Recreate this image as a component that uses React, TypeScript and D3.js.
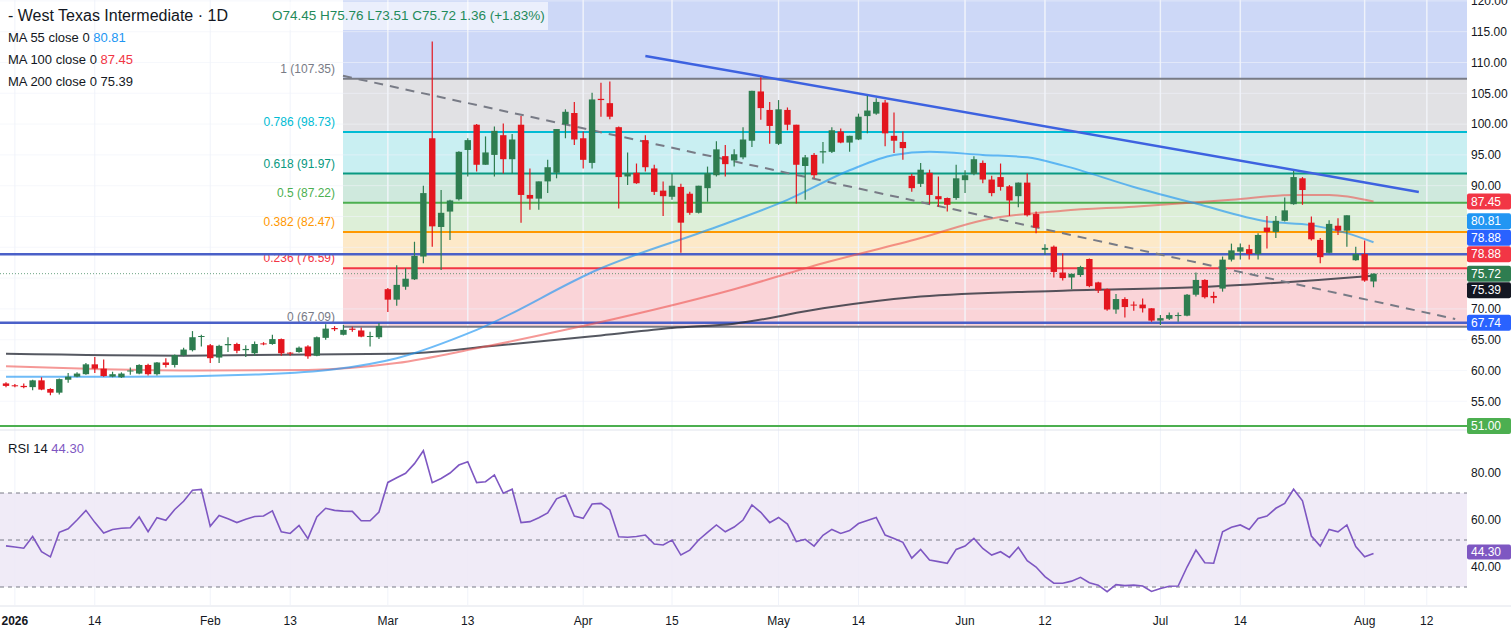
import React from 'react';
import * as d3 from 'd3';

// daily bars Dec 31 2025 -> Aug 4 2026, [open, high, low, close]
const ohlc: [number, number, number, number][] = [
  [57.9, 58.1, 57.3, 57.5], [57.6, 57.8, 57.3, 57.5], [57.5, 57.9, 57.1, 57.3], [57.3, 58.5, 56.8, 58.4],
  [58.4, 58.9, 56.8, 56.9], [57.0, 57.1, 56.0, 56.4], [56.4, 58.7, 56.1, 58.6], [58.5, 59.6, 58.0, 59.0],
  [59.0, 59.7, 58.9, 59.5], [59.4, 61.2, 59.3, 61.0], [61.0, 62.2, 59.6, 60.3], [60.3, 61.8, 59.0, 59.1],
  [59.0, 59.8, 58.9, 59.4], [58.9, 59.7, 58.8, 59.5], [59.9, 60.5, 59.3, 60.0], [59.5, 61.0, 59.4, 60.9],
  [60.9, 61.1, 59.2, 59.4], [59.4, 61.4, 59.2, 61.3], [61.3, 62.0, 60.5, 60.9], [60.9, 62.6, 60.5, 62.5],
  [62.5, 63.7, 62.3, 63.4], [63.3, 66.4, 63.1, 65.4], [65.5, 65.8, 63.9, 65.6], [64.1, 64.3, 61.2, 62.0],
  [62.1, 64.2, 61.2, 64.0], [64.1, 65.4, 63.0, 64.3], [64.3, 64.5, 62.8, 63.2], [63.3, 64.1, 62.2, 63.5],
  [62.8, 64.7, 62.4, 64.3], [64.4, 64.6, 64.1, 64.3], [64.3, 65.8, 64.2, 65.1], [65.1, 65.2, 62.4, 62.8],
  [62.9, 63.0, 62.4, 62.8], [63.0, 63.9, 62.9, 63.7], [63.9, 64.1, 61.9, 62.3], [62.4, 65.5, 62.3, 65.4],
  [65.3, 67.5, 65.0, 66.8], [66.9, 67.2, 66.4, 66.7], [65.8, 67.4, 65.7, 66.6], [66.8, 67.1, 66.3, 66.6],
  [66.5, 67.0, 65.4, 65.5], [65.5, 66.3, 63.9, 65.6], [65.4, 67.7, 65.1, 67.2], [73.2, 73.4, 69.5, 71.5],
  [71.5, 77.1, 70.5, 73.9], [73.6, 76.6, 73.1, 74.9], [74.8, 80.9, 74.7, 78.6], [78.5, 90.0, 77.4, 88.8],
  [97.7, 113.4, 80.1, 83.4], [83.3, 89.3, 76.3, 85.6], [85.8, 87.7, 81.2, 87.6], [87.8, 95.6, 87.6, 95.5],
  [95.8, 97.7, 91.5, 97.4], [99.9, 100.0, 92.3, 93.4], [93.4, 98.0, 93.4, 95.4], [95.0, 99.6, 91.5, 98.9],
  [98.2, 100.1, 92.0, 94.3], [94.3, 98.4, 92.0, 97.5], [99.9, 101.3, 84.0, 88.5], [88.5, 92.8, 86.1, 87.9],
  [87.9, 90.7, 86.1, 90.7], [90.7, 94.2, 88.8, 93.0], [92.1, 99.2, 91.2, 99.2], [100.0, 102.4, 97.7, 102.0],
  [101.8, 103.6, 96.6, 97.5], [97.7, 98.8, 92.8, 94.2], [93.7, 105.1, 92.8, 104.0], [104.1, 106.7, 101.2, 103.9],
  [103.4, 106.9, 100.8, 101.2], [99.5, 99.6, 86.3, 91.4], [91.5, 95.4, 90.1, 92.0], [92.1, 93.6, 90.3, 90.4],
  [97.4, 98.2, 92.3, 93.0], [92.8, 93.4, 88.5, 89.0], [89.2, 90.7, 85.1, 88.3], [88.2, 91.9, 87.7, 90.0],
  [89.8, 90.3, 79.1, 84.0], [88.7, 89.0, 85.3, 85.6], [85.6, 90.0, 85.5, 90.0], [89.6, 93.1, 87.4, 92.0],
  [91.7, 97.2, 91.5, 95.9], [94.8, 96.6, 91.5, 93.5], [94.1, 95.9, 93.1, 95.1], [94.6, 99.5, 94.3, 97.5],
  [97.3, 105.4, 96.3, 105.4], [105.3, 107.6, 100.7, 102.6], [102.3, 103.6, 96.8, 99.7], [96.8, 103.9, 96.6, 102.4],
  [102.3, 102.7, 99.0, 99.9], [99.9, 99.9, 87.1, 93.4], [93.2, 95.0, 87.7, 94.6], [95.0, 95.3, 91.2, 91.7],
  [95.4, 97.1, 93.6, 95.6], [95.5, 99.5, 95.3, 99.0], [98.8, 99.3, 96.9, 97.0], [97.0, 98.1, 95.5, 98.1],
  [97.5, 101.7, 97.4, 101.2], [101.3, 104.6, 98.5, 102.2], [101.7, 104.2, 101.5, 103.6], [103.5, 103.9, 96.4, 98.5],
  [98.1, 101.9, 95.3, 97.3], [97.1, 98.8, 94.2, 96.1], [91.6, 91.9, 89.0, 89.6], [90.3, 93.7, 89.8, 92.6],
  [92.1, 92.6, 87.0, 88.5], [88.3, 91.5, 86.6, 87.8], [88.0, 88.1, 85.8, 86.9], [88.0, 93.4, 87.7, 91.2],
  [90.9, 92.5, 88.8, 91.7], [91.9, 94.8, 91.7, 94.3], [93.7, 94.1, 90.4, 91.0], [91.0, 91.6, 88.3, 88.8],
  [91.4, 93.6, 89.2, 89.8], [89.9, 90.1, 85.1, 87.6], [88.3, 90.5, 86.5, 90.5], [90.5, 92.0, 85.0, 85.2],
  [85.4, 85.8, 82.3, 83.2], [79.6, 80.5, 78.8, 79.9], [80.1, 80.3, 75.1, 76.0], [75.9, 79.0, 74.6, 75.0],
  [75.1, 75.7, 73.2, 75.7], [75.5, 77.0, 75.2, 76.8], [78.1, 78.2, 73.5, 73.7], [74.3, 74.4, 72.6, 73.0],
  [73.2, 73.3, 69.7, 69.9], [69.9, 72.4, 69.2, 71.6], [71.6, 71.9, 68.6, 70.3], [70.7, 71.2, 69.7, 70.6],
  [70.7, 71.7, 69.4, 70.1], [70.1, 70.1, 67.9, 68.1], [68.1, 69.0, 67.4, 68.5], [68.4, 69.4, 68.2, 69.0],
  [68.9, 69.4, 67.9, 69.0], [68.9, 72.4, 68.8, 72.3], [72.3, 75.9, 72.0, 74.7], [74.7, 74.8, 71.7, 71.9],
  [72.1, 72.8, 70.9, 71.8], [73.3, 78.5, 72.8, 78.0], [78.0, 80.6, 77.7, 79.5], [79.3, 80.6, 78.0, 80.0],
  [79.7, 80.4, 78.0, 78.9], [78.9, 82.3, 78.0, 82.0], [83.2, 85.1, 79.8, 82.5], [82.5, 85.1, 81.5, 84.3],
  [84.3, 88.1, 84.2, 86.0], [87.0, 92.4, 86.9, 91.4], [91.2, 91.4, 86.9, 89.3], [84.0, 85.0, 81.1, 81.3],
  [81.2, 81.5, 77.4, 78.4], [79.1, 84.4, 79.0, 83.8], [83.5, 84.7, 82.0, 82.7], [82.7, 85.2, 80.1, 85.2],
  [77.9, 80.1, 77.8, 78.9], [78.9, 81.1, 74.4, 74.6], [74.45, 75.76, 73.51, 75.72],
];

// moving averages, [bar index, value]
const ma55: [number, number][] = [
  [0, 59.0], [14, 59.0], [29, 59.4], [37, 60.2], [44, 62.0], [53, 66.6], [67, 76.6], [80, 83.3],
  [88, 87.7], [95, 92.5], [100, 95.0], [104, 95.5], [110, 95.0], [115, 94.6], [119, 93.3], [127, 89.8],
  [134, 87.1], [142, 84.2], [147, 83.6], [151, 82.3], [154, 80.81],
];
const ma100: [number, number][] = [
  [0, 60.7], [11, 60.2], [22, 60.0], [34, 60.1], [44, 61.2], [53, 63.6], [63, 66.6], [82, 73.2],
  [92, 77.4], [103, 81.5], [110, 84.4], [119, 85.95], [127, 86.6], [138, 87.7], [145, 88.5], [149, 88.5],
  [154, 87.45],
];
const ma200: [number, number][] = [
  [0, 62.7], [20, 62.4], [44, 62.7], [55, 64.0], [67, 65.7], [75, 66.9], [82, 67.6], [92, 70.1],
  [103, 72.0], [119, 72.96], [134, 73.5], [154, 75.39],
];

// RSI 14 per bar
const rsi14: number[] = [
  47.5, 47.0, 46.5, 51.5, 45.0, 42.8, 53.3, 54.8, 58.5, 62.6, 57.5, 53.0, 54.5, 55.0, 55.2, 59.8,
  53.5, 59.5, 58.4, 63.0, 66.5, 71.2, 71.5, 55.8, 60.4, 59.0, 57.4, 58.8, 60.0, 60.2, 62.4, 53.5,
  52.8, 56.2, 50.6, 59.8, 63.5, 62.6, 62.3, 62.2, 58.2, 58.2, 61.9, 74.5, 76.5, 78.4, 82.5, 88.0,
  74.4, 76.2, 78.5, 81.9, 83.3, 74.4, 74.8, 77.7, 69.9, 71.6, 57.4, 57.8, 59.5, 61.5, 67.5, 69.1,
  60.2, 59.2, 65.3, 65.6, 62.8, 51.4, 51.2, 51.5, 52.1, 48.3, 47.9, 50.0, 43.6, 45.7, 50.0, 53.2,
  56.4, 53.5, 55.5, 58.5, 64.9, 61.8, 57.4, 59.6, 56.8, 49.3, 50.3, 47.4, 52.0, 54.5, 52.8, 54.0,
  57.0, 58.3, 59.6, 52.1, 50.6, 49.0, 42.3, 46.0, 41.5, 40.8, 40.1, 46.0, 47.4, 50.7, 46.4, 43.6,
  45.0, 42.6, 46.9, 41.2, 38.5, 34.4, 31.6, 31.6, 32.5, 34.1, 31.8, 30.8, 28.0, 31.0, 30.6, 30.8,
  30.4, 28.1, 29.4, 30.3, 30.4, 38.5, 45.7, 40.3, 40.1, 53.5, 55.4, 56.4, 54.5, 59.2, 60.2, 63.5,
  65.6, 71.6, 66.7, 51.7, 47.4, 54.5, 53.5, 56.4, 47.2, 42.9, 44.3,
];

const fibRatios = ['0', '0.236', '0.382', '0.5', '0.618', '0.786', '1'];
const fibValues = [67.09, 76.59, 82.47, 87.22, 91.97, 98.73, 107.35];
const fibStart = 37.95; // bar index where the retracement begins

const blueTrend: [number, number][] = [[72, 111.06], [159.1, 88.98]];
const grayTrend: [number, number][] = [[37.95, 107.84], [163.2, 68.36]];

const tickIdx = [1, 10, 23, 32, 43, 52, 65, 75, 87, 96, 108, 117, 130, 139, 153, 160];
const tickText = ['2026', '14', 'Feb', '13', 'Mar', '13', 'Apr', '15', 'May', '14', 'Jun', '12', 'Jul', '14', 'Aug', '12'];

const priceTicks = [55, 60, 65, 70, 75, 80, 85, 90, 95, 100, 105, 110, 115, 120];
const rsiTicks = [40, 60, 80];

const tagValues = [87.45, 80.81, 78.88, 78.88, 75.72, 75.39, 67.74, 51.0];
const tagKinds = ['ma100', 'ma55', 'hline', 'alert', 'last', 'ma200', 'hline', 'hgreen'];

const font = '"Liberation Sans", Arial, sans-serif';
const UP = '#2e7d50';
const DOWN = '#e3161f';

const fibLine = ['#787b86', '#f23645', '#ff9800', '#4caf50', '#089981', '#00bcd4', '#787b86'];
const fibFill = ['#fad4d8', '#fde9c8', '#ddefd8', '#cfe9dd', '#c9eff2', '#e1e1e4', '#cdd8f7'];
const tagColor: Record<string, string> = {
  ma100: '#f23645', ma55: '#2196f3', hline: '#2962ff', alert: '#f23645',
  last: '#2e7d50', ma200: '#131722', hgreen: '#4caf50',
};

export default function App() {
  const W = 1511, H = 634, plotR = 1467;
  const x = d3.scaleLinear().domain([0, 154]).range([6, 6 + 154 * 8.88]);
  const y = d3.scaleLinear().domain([55, 115]).range([401.3, 31.7]);
  const yr = d3.scaleLinear().domain([30, 70]).range([587, 493]);
  const topPrice = y.invert(0);
  const fx = x(fibStart);

  const maLine = d3.line<[number, number]>().x(d => x(d[0])).y(d => y(d[1])).curve(d3.curveMonotoneX);
  const rsiLine = d3.line<number>().x((_, i) => x(i)).y(d => yr(d));

  // price tags on the axis: last price stays put, the others are pushed away from it
  const gapMin = 16.5;
  const tags = tagValues.map((v, i) => ({ v, kind: tagKinds[i], pos: y(v) }));
  const li = tags.findIndex(t => t.kind === 'last');
  for (let i = li - 1; i >= 0; i--) {
    tags[i].pos = Math.min(tags[i].pos, tags[i + 1].pos - gapMin);
  }
  for (let i = li + 1; i < tags.length; i++) {
    tags[i].pos = Math.max(tags[i].pos, tags[i - 1].pos + gapMin);
  }
  const shownTicks = priceTicks.filter(p => tags.every(t => Math.abs(t.pos - y(p)) > 11));

  const bands = fibValues.map((v, i) => ({
    lo: v, hi: i < fibValues.length - 1 ? fibValues[i + 1] : topPrice, fill: fibFill[i],
  }));

  return (
    <svg width={W} height={H} style={{ position: 'absolute', left: 0, top: 0, background: '#fff', fontFamily: font }}>
      {/* fib zones */}
      {bands.map((b, i) => (
        <rect key={'fb' + i} x={fx} y={y(b.hi)} width={plotR - fx} height={y(b.lo) - y(b.hi)} fill={b.fill} />
      ))}
      {/* grid */}
      {tickIdx.map((t, i) => (
        <line key={'vg' + i} x1={x(t)} x2={x(t)} y1={0} y2={605} stroke="#ffffff" strokeOpacity={0.45} strokeWidth={1.5} />
      ))}
      {tickIdx.map((t, i) => (
        <line key={'vg2' + i} x1={x(t)} x2={x(t)} y1={0} y2={605} stroke="#f0f3fa" strokeWidth={1} />
      ))}
      {priceTicks.map(p => (
        <line key={'hg' + p} x1={0} x2={plotR} y1={y(p)} y2={y(p)} stroke="#f0f3fa" strokeOpacity={0.6} />
      ))}
      {fibValues.map((v, i) => (
        <line key={'fl' + i} x1={fx} x2={plotR} y1={y(v)} y2={y(v)} stroke={fibLine[i]} strokeWidth={2} />
      ))}
      {fibValues.map((v, i) => (
        <text key={'ft' + i} x={fx - 8} y={y(v) - 6} textAnchor="end" fontSize={12} fill={fibLine[i]}>
          {fibRatios[i]} ({v.toFixed(2)})
        </text>
      ))}

      {/* horizontal levels */}
      <line x1={0} x2={plotR} y1={y(78.88)} y2={y(78.88)} stroke="#4a60c8" strokeWidth={2.5} />
      <line x1={0} x2={plotR} y1={y(67.74)} y2={y(67.74)} stroke="#4a60c8" strokeWidth={2.5} />
      <line x1={0} x2={plotR} y1={y(51)} y2={y(51)} stroke="#4caf50" strokeWidth={2} />
      <line x1={0} x2={plotR} y1={y(75.72)} y2={y(75.72)} stroke="#2e7d50" strokeWidth={1} strokeDasharray="1 2" strokeOpacity={0.7} />

      {/* moving averages */}
      <path d={maLine(ma200) ?? ''} fill="none" stroke="#2a2e39" strokeOpacity={0.8} strokeWidth={2} />
      <path d={maLine(ma100) ?? ''} fill="none" stroke="#ef5350" strokeOpacity={0.6} strokeWidth={2} />
      <path d={maLine(ma55) ?? ''} fill="none" stroke="#2196f3" strokeOpacity={0.65} strokeWidth={2} />

      {/* trend lines */}
      <line x1={x(grayTrend[0][0])} y1={y(grayTrend[0][1])} x2={x(grayTrend[1][0])} y2={y(grayTrend[1][1])}
        stroke="#787b86" strokeWidth={2} strokeDasharray="9 7" />
      <line x1={x(blueTrend[0][0])} y1={y(blueTrend[0][1])} x2={x(blueTrend[1][0])} y2={y(blueTrend[1][1])}
        stroke="#3d62e0" strokeWidth={2.5} />

      {/* candles */}
      {ohlc.map(([o, h, l, c], i) => {
        const col = c >= o ? UP : DOWN;
        const top = y(Math.max(o, c));
        const bh = Math.max(1, Math.abs(y(o) - y(c)));
        return (
          <g key={'c' + i}>
            <line x1={x(i)} x2={x(i)} y1={y(h)} y2={y(l)} stroke={col} strokeWidth={1.2} />
            <rect x={x(i) - 3.2} y={top} width={6.4} height={bh} fill={col} />
          </g>
        );
      })}

      {/* header */}
      <rect x={262} y={2} width={286} height={28} fill="#ffffff" fillOpacity={0.6} />
      <text x={8} y={21} fontSize={16} fill="#131722">- West Texas Intermediate · 1D</text>
      <text x={272} y={20} fontSize={13.5} fill="#1f8a5a">O74.45 H75.76 L73.51 C75.72 1.36 (+1.83%)</text>
      <text x={8} y={42} fontSize={13} fill="#131722">MA 55 close 0 <tspan fill="#2196f3">80.81</tspan></text>
      <text x={8} y={64} fontSize={13} fill="#131722">MA 100 close 0 <tspan fill="#f23645">87.45</tspan></text>
      <text x={8} y={86} fontSize={13} fill="#131722">MA 200 close 0 <tspan fill="#131722">75.39</tspan></text>

      {/* RSI pane */}
      <line x1={0} x2={W} y1={430} y2={430} stroke="#e0e3eb" />
      <rect x={0} y={yr(70)} width={plotR} height={yr(30) - yr(70)} fill="#ede7f6" fillOpacity={0.85} />
      {[70, 50, 30].map(v => (
        <line key={'rl' + v} x1={0} x2={plotR} y1={yr(v)} y2={yr(v)} stroke="#787b86" strokeDasharray="4 4" strokeWidth={1} />
      ))}
      <path d={rsiLine(rsi14) ?? ''} fill="none" stroke="#7e57c2" strokeWidth={1.6} />
      <text x={8} y={453} fontSize={13} fill="#131722">RSI 14 <tspan fill="#7e57c2">44.30</tspan></text>

      {/* price axis */}
      <rect x={plotR} y={0} width={W - plotR} height={H} fill="#ffffff" />
      {shownTicks.map(p => (
        <text key={'pt' + p} x={1471} y={y(p)} dy="0.35em" fontSize={12} fill="#131722">{p.toFixed(2)}</text>
      ))}
      {rsiTicks.map(r => (
        <text key={'rt' + r} x={1471} y={yr(r) + 3} dy="0.35em" fontSize={12} fill="#131722">{r.toFixed(2)}</text>
      ))}
      {tags.map((t, i) => (
        <g key={'tg' + i}>
          <rect x={plotR} y={t.pos - 8} width={W - plotR} height={16} rx={2} fill={tagColor[t.kind]} />
          <text x={1471} y={t.pos} dy="0.35em" fontSize={12} fill="#fff">{t.v.toFixed(2)}</text>
        </g>
      ))}
      <rect x={plotR} y={yr(44.3) - 9} width={W - plotR} height={15} rx={2} fill="#7e57c2" />
      <text x={1471} y={yr(44.3) - 1.5} dy="0.35em" fontSize={12} fill="#fff">44.30</text>

      {/* time axis */}
      <line x1={0} x2={W} y1={606} y2={606} stroke="#e0e3eb" />
      {tickIdx.map((t, i) => (
        <text key={'tt' + i} x={x(t)} y={621} dy="0.35em" textAnchor="middle" fontSize={12}
          fontWeight={i === 0 ? 'bold' : 'normal'} fill="#131722">{tickText[i]}</text>
      ))}
    </svg>
  );
}
